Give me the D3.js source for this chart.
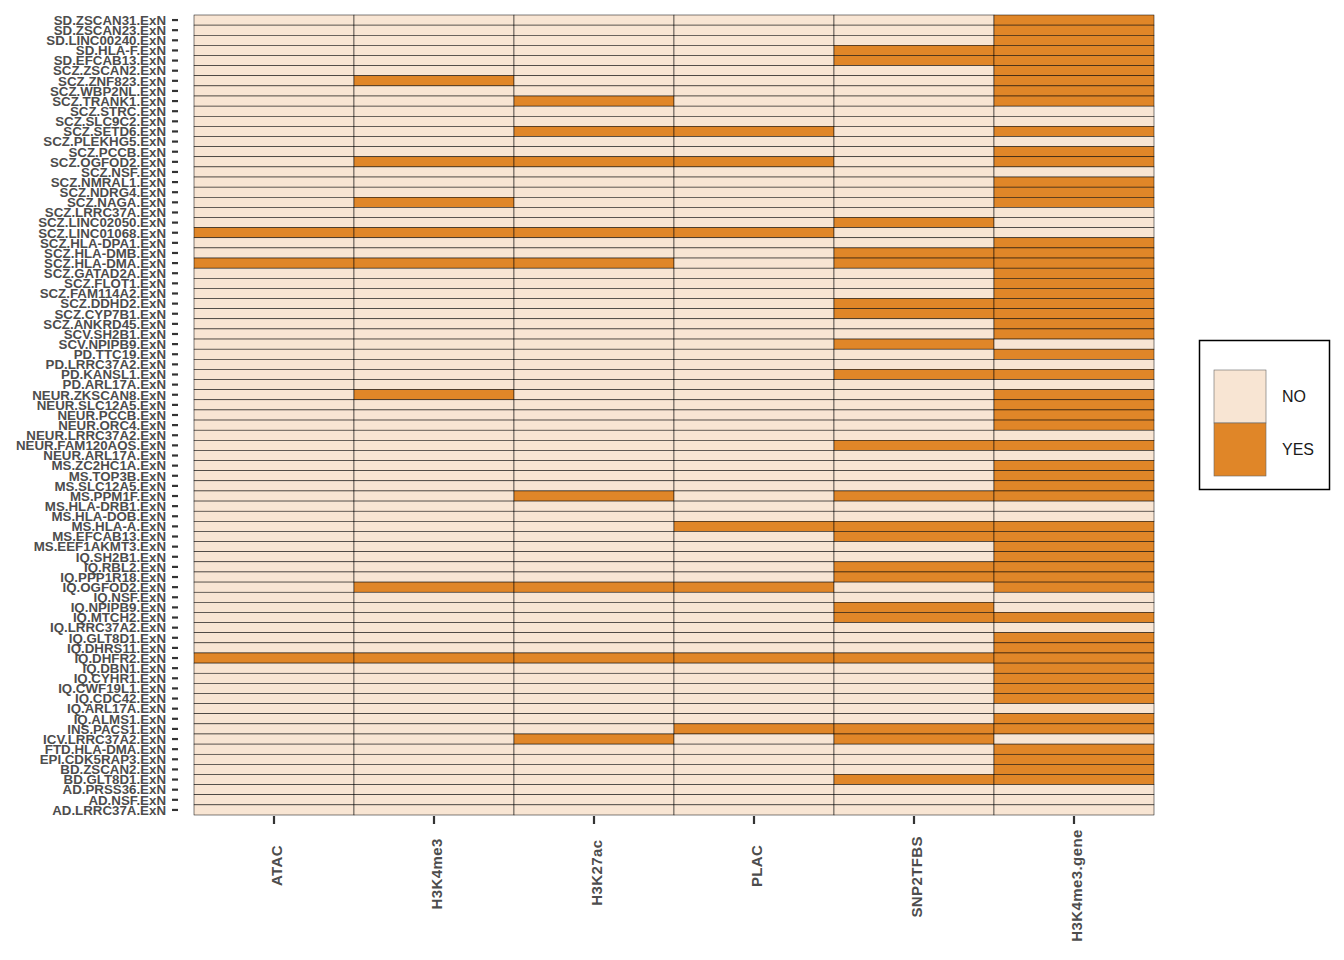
<!DOCTYPE html>
<html>
<head>
    <title>Annotation heatmap</title>
    <script src="https://d3js.org/d3.v7.min.js"></script>
    <style>
        body { margin: 0; background: #ffffff; }
        svg { display: block; }
    </style>
</head>
<body>
<svg id="chart"></svg>
<script>
    // row labels, top to bottom
    const rowLabels = [
        "SD.ZSCAN31.ExN", "SD.ZSCAN23.ExN", "SD.LINC00240.ExN", "SD.HLA-F.ExN", "SD.EFCAB13.ExN",
        "SCZ.ZSCAN2.ExN", "SCZ.ZNF823.ExN", "SCZ.WBP2NL.ExN", "SCZ.TRANK1.ExN", "SCZ.STRC.ExN",
        "SCZ.SLC9C2.ExN", "SCZ.SETD6.ExN", "SCZ.PLEKHG5.ExN", "SCZ.PCCB.ExN", "SCZ.OGFOD2.ExN",
        "SCZ.NSF.ExN", "SCZ.NMRAL1.ExN", "SCZ.NDRG4.ExN", "SCZ.NAGA.ExN", "SCZ.LRRC37A.ExN",
        "SCZ.LINC02050.ExN", "SCZ.LINC01068.ExN", "SCZ.HLA-DPA1.ExN", "SCZ.HLA-DMB.ExN", "SCZ.HLA-DMA.ExN",
        "SCZ.GATAD2A.ExN", "SCZ.FLOT1.ExN", "SCZ.FAM114A2.ExN", "SCZ.DDHD2.ExN", "SCZ.CYP7B1.ExN",
        "SCZ.ANKRD45.ExN", "SCV.SH2B1.ExN", "SCV.NPIPB9.ExN", "PD.TTC19.ExN", "PD.LRRC37A2.ExN",
        "PD.KANSL1.ExN", "PD.ARL17A.ExN", "NEUR.ZKSCAN8.ExN", "NEUR.SLC12A5.ExN", "NEUR.PCCB.ExN",
        "NEUR.ORC4.ExN", "NEUR.LRRC37A2.ExN", "NEUR.FAM120AOS.ExN", "NEUR.ARL17A.ExN", "MS.ZC2HC1A.ExN",
        "MS.TOP3B.ExN", "MS.SLC12A5.ExN", "MS.PPM1F.ExN", "MS.HLA-DRB1.ExN", "MS.HLA-DOB.ExN",
        "MS.HLA-A.ExN", "MS.EFCAB13.ExN", "MS.EEF1AKMT3.ExN", "IQ.SH2B1.ExN", "IQ.RBL2.ExN",
        "IQ.PPP1R18.ExN", "IQ.OGFOD2.ExN", "IQ.NSF.ExN", "IQ.NPIPB9.ExN", "IQ.MTCH2.ExN",
        "IQ.LRRC37A2.ExN", "IQ.GLT8D1.ExN", "IQ.DHRS11.ExN", "IQ.DHFR2.ExN", "IQ.DBN1.ExN",
        "IQ.CYHR1.ExN", "IQ.CWF19L1.ExN", "IQ.CDC42.ExN", "IQ.ARL17A.ExN", "IQ.ALMS1.ExN",
        "INS.PACS1.ExN", "ICV.LRRC37A2.ExN", "FTD.HLA-DMA.ExN", "EPI.CDK5RAP3.ExN", "BD.ZSCAN2.ExN",
        "BD.GLT8D1.ExN", "AD.PRSS36.ExN", "AD.NSF.ExN", "AD.LRRC37A.ExN"
    ];

    const columns = ["ATAC", "H3K4me3", "H3K27ac", "PLAC", "SNP2TFBS", "H3K4me3.gene"];
    const legendLabels = ["NO", "YES"];

    // 1 = YES, 0 = NO, one entry per row (groups of ten)
    const atac = [
        0,0,0,0,0,0,0,0,0,0, 0,0,0,0,0,0,0,0,0,0, 0,1,0,0,1,0,0,0,0,0, 0,0,0,0,0,0,0,0,0,0,
        0,0,0,0,0,0,0,0,0,0, 0,0,0,0,0,0,0,0,0,0, 0,0,0,1,0,0,0,0,0,0, 0,0,0,0,0,0,0,0,0
    ];
    const h3k4me3 = [
        0,0,0,0,0,0,1,0,0,0, 0,0,0,0,1,0,0,0,1,0, 0,1,0,0,1,0,0,0,0,0, 0,0,0,0,0,0,0,1,0,0,
        0,0,0,0,0,0,0,0,0,0, 0,0,0,0,0,0,1,0,0,0, 0,0,0,1,0,0,0,0,0,0, 0,0,0,0,0,0,0,0,0
    ];
    const h3k27ac = [
        0,0,0,0,0,0,0,0,1,0, 0,1,0,0,1,0,0,0,0,0, 0,1,0,0,1,0,0,0,0,0, 0,0,0,0,0,0,0,0,0,0,
        0,0,0,0,0,0,0,1,0,0, 0,0,0,0,0,0,1,0,0,0, 0,0,0,1,0,0,0,0,0,0, 0,1,0,0,0,0,0,0,0
    ];
    const plac = [
        0,0,0,0,0,0,0,0,0,0, 0,1,0,0,1,0,0,0,0,0, 0,1,0,0,0,0,0,0,0,0, 0,0,0,0,0,0,0,0,0,0,
        0,0,0,0,0,0,0,0,0,0, 1,0,0,0,0,0,1,0,0,0, 0,0,0,1,0,0,0,0,0,0, 1,0,0,0,0,0,0,0,0
    ];
    const snp2tfbs = [
        0,0,0,1,1,0,0,0,0,0, 0,0,0,0,0,0,0,0,0,0, 1,0,0,1,1,0,0,0,1,1, 0,0,1,0,0,1,0,0,0,0,
        0,0,1,0,0,0,0,1,0,0, 1,1,0,0,1,1,0,0,1,1, 0,0,0,1,0,0,0,0,0,0, 1,1,0,0,0,1,0,0,0
    ];
    const h3k4me3Gene = [
        1,1,1,1,1,1,1,1,1,0, 0,1,0,1,1,0,1,1,1,0, 0,0,1,1,1,1,1,1,1,1, 1,1,0,1,0,1,0,1,1,1,
        1,0,1,0,1,1,1,1,0,0, 1,1,1,1,1,1,1,0,0,1, 0,1,1,1,1,1,1,1,0,1, 1,0,1,1,1,1,0,0,0
    ];

    const seriesByColumn = [atac, h3k4me3, h3k27ac, plac, snp2tfbs, h3k4me3Gene];

    const width = 1344, height = 960;
    const margin = { top: 15, right: 190, bottom: 145, left: 194 };
    const colorNo = "#f8e5d3", colorYes = "#e08628";

    const svg = d3.select("#chart")
        .attr("width", width)
        .attr("height", height);

    const x = d3.scaleBand()
        .domain(columns)
        .range([margin.left, width - margin.right]);

    const y = d3.scaleBand()
        .domain(rowLabels)
        .range([margin.top, height - margin.bottom]);

    const color = d3.scaleOrdinal()
        .domain([0, 1])
        .range([colorNo, colorYes]);

    // flatten into cells
    let cells = [];
    for (let c = 0; c < columns.length; c++) {
        for (let r = 0; r < rowLabels.length; r++) {
            cells.push({ col: columns[c], row: rowLabels[r], v: seriesByColumn[c][r] });
        }
    }

    svg.append("g")
        .selectAll("rect")
        .data(cells)
        .enter()
        .append("rect")
        .attr("x", d => x(d.col))
        .attr("y", d => y(d.row))
        .attr("width", x.bandwidth())
        .attr("height", y.bandwidth())
        .attr("fill", d => color(d.v))
        .attr("stroke", "#000")
        .attr("stroke-width", 0.5);

    // y axis
    const yAxis = svg.append("g")
        .attr("transform", "translate(" + (margin.left - 16) + ",0)")
        .call(d3.axisLeft(y).tickSize(6).tickPadding(6));
    yAxis.select(".domain").remove();
    yAxis.selectAll(".tick line")
        .attr("stroke", "#333")
        .attr("stroke-width", 2.2);
    yAxis.selectAll(".tick text")
        .attr("fill", "#4d4d4d")
        .attr("dy", "0.36em")
        .style("font-family", "'Liberation Sans', Arial, sans-serif")
        .style("font-weight", "bold")
        .style("font-size", "13.3px");

    // x axis
    const xAxis = svg.append("g")
        .attr("transform", "translate(0," + (height - margin.bottom + 1) + ")")
        .call(d3.axisBottom(x).tickSize(8).tickPadding(0));
    xAxis.select(".domain").remove();
    xAxis.selectAll(".tick line")
        .attr("stroke", "#333")
        .attr("stroke-width", 2.2);
    xAxis.selectAll(".tick text")
        .attr("fill", "#4d4d4d")
        .attr("text-anchor", "end")
        .attr("x", 0)
        .attr("dy", 0)
        .style("font-family", "'Liberation Sans', Arial, sans-serif")
        .style("font-weight", "bold")
        .style("font-size", "15px")
        .style("letter-spacing", "0.4px")
        .each(function () {
            let len = this.getComputedTextLength();
            // label end sits a bit above its anchor, longer labels reach higher
            let top = 38 - 0.22 * len;
            d3.select(this)
                .attr("y", 8)
                .attr("transform", "translate(0," + top + ") rotate(-90)");
        });

    // legend
    const legend = svg.append("g");
    legend.append("rect")
        .attr("x", 1199.5)
        .attr("y", 340.5)
        .attr("width", 130)
        .attr("height", 149)
        .attr("fill", "none")
        .attr("stroke", "#000")
        .attr("stroke-width", 1.5);

    const key = d3.scaleBand()
        .domain(legendLabels)
        .range([370, 476]);

    legend.selectAll(".key")
        .data(legendLabels)
        .enter()
        .append("rect")
        .attr("class", "key")
        .attr("x", 1214)
        .attr("y", d => key(d))
        .attr("width", 52)
        .attr("height", key.bandwidth())
        .attr("fill", (d, i) => color(i))
        .attr("stroke", "#666")
        .attr("stroke-width", 0.6);

    legend.selectAll(".klab")
        .data(legendLabels)
        .enter()
        .append("text")
        .attr("class", "klab")
        .attr("x", 1282)
        .attr("y", d => key(d) + key.bandwidth() / 2)
        .attr("dy", "0.36em")
        .attr("fill", "#1a1a1a")
        .style("font-family", "'Liberation Sans', Arial, sans-serif")
        .style("font-size", "16px")
        .text(d => d);
</script>
</body>
</html>
